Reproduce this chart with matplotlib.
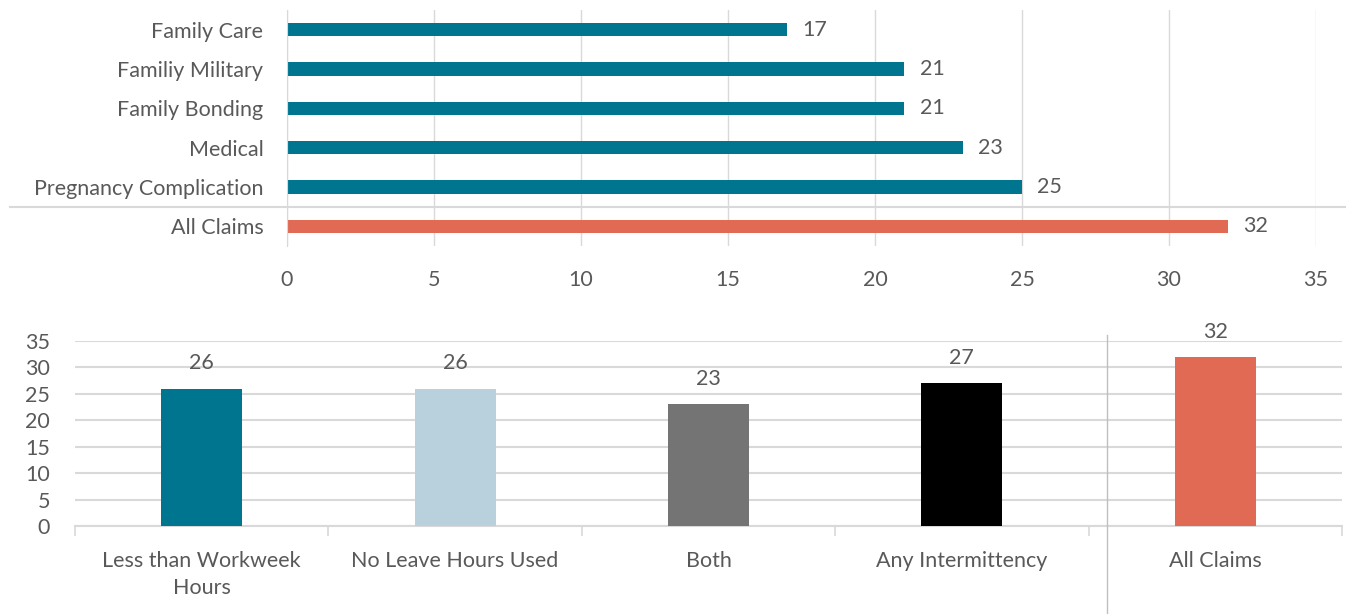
import matplotlib
matplotlib.use("Agg")
import matplotlib.pyplot as plt
import matplotlib.transforms as mtransforms
from matplotlib.lines import Line2D
import numpy as np

plt.rcParams['font.family'] = ['Lato', 'DejaVu Sans']

# top chart data
leave_types = ["Family Care", "Familiy Military", "Family Bonding", "Medical",
               "Pregnancy Complication", "All Claims"]
leave_values = [17, 21, 21, 23, 25, 32]
leave_colors = ["#00758F"] * 5 + ["#E06A54"]

# bottom chart data
usage_types = ["Less than Workweek\nHours", "No Leave Hours Used", "Both",
               "Any Intermittency", "All Claims"]
usage_values = [26, 26, 23, 27, 32]
usage_colors = ["#00758F", "#B8D1DC", "#747474", "#000000", "#E06A54"]

text_col = "#595959"
grid_col = "#D9D9D9"
fs = 15.5
W, H = 1361, 614

fig = plt.figure(figsize=(W / 100, H / 100), dpi=100)

def fig_rect(x0, y0, x1, y1):
    # pixel box -> figure fraction
    return [x0 / W, 1 - y1 / H, (x1 - x0) / W, (y1 - y0) / H]

# ---- top: horizontal bars
ax1 = fig.add_axes(fig_rect(287, 10, 1316, 246))
ypos = np.arange(len(leave_types))
ax1.barh(ypos, leave_values, height=0.34, color=leave_colors, zorder=3)
ax1.set_xlim(0, 35)
ax1.set_ylim(len(leave_types) - 0.5, -0.5)
ax1.set_yticks(ypos)
ax1.set_yticklabels(leave_types)
ax1.set_xticks(np.arange(0, 36, 5))
ax1.tick_params(axis="both", length=0, labelsize=fs, labelcolor=text_col)
ax1.tick_params(axis="x", pad=17)
ax1.tick_params(axis="y", pad=17)
ax1.grid(axis="x", color=grid_col, lw=1, zorder=0)
for s in ["top", "right", "bottom"]:
    ax1.spines[s].set_visible(False)
ax1.spines["left"].set_color(grid_col)
ax1.spines["left"].set_zorder(4)
for y, v in zip(ypos, leave_values):
    ax1.annotate(str(v), (v, y), xytext=(11, 0), textcoords="offset points",
                 va="center", ha="left", fontsize=fs, color=text_col)
# divider above "All Claims"
tr = mtransforms.blended_transform_factory(fig.transFigure, ax1.transData)
ax1.add_line(Line2D([10 / W, 1345 / W], [len(leave_types) - 1.5] * 2,
                    transform=tr, color=grid_col, lw=1.5, clip_on=False, zorder=2))

# ---- bottom: vertical bars
ax2 = fig.add_axes(fig_rect(75, 341, 1342, 526))
xpos = np.arange(len(usage_types))
ax2.bar(xpos, usage_values, width=0.32, color=usage_colors, zorder=3)
ax2.set_xlim(-0.5, len(usage_types) - 0.5)
ax2.set_ylim(0, 35)
ax2.set_yticks(np.arange(0, 36, 5))
ax2.set_xticks(xpos)
ax2.set_xticklabels(usage_types, linespacing=1.45)
ax2.set_xticks(np.arange(-0.5, len(usage_types)), minor=True)
ax2.tick_params(axis="both", which="major", length=0, labelsize=fs, labelcolor=text_col)
ax2.tick_params(axis="x", which="major", pad=18)
ax2.tick_params(axis="y", pad=18)
ax2.tick_params(axis="x", which="minor", length=7, color=grid_col, width=1.2)
ax2.grid(axis="y", color=grid_col, lw=1.5, zorder=0)
for s in ["top", "right", "left"]:
    ax2.spines[s].set_visible(False)
ax2.spines["bottom"].set_color(grid_col)
ax2.spines["bottom"].set_linewidth(1.5)
for x, v in zip(xpos, usage_values):
    ax2.annotate(str(v), (x, v), xytext=(0, 11), textcoords="offset points",
                 va="bottom", ha="center", fontsize=fs, color=text_col)
# divider before "All Claims"
tr2 = mtransforms.blended_transform_factory(fig.transFigure, fig.transFigure)
fig.add_artist(Line2D([1107 / W] * 2, [1 - 335 / H, 0], transform=tr2,
                      color="#BFBFBF", lw=1))

fig.savefig("out.png", dpi=100)
